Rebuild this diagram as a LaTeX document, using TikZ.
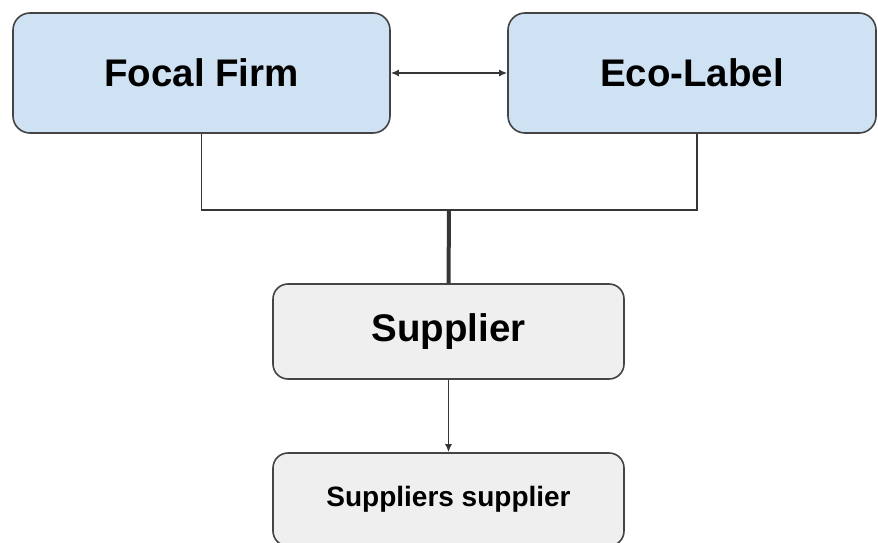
\documentclass[tikz,border=0pt]{standalone}
\usepackage{fontspec}
\setmainfont{Liberation Sans}
\usetikzlibrary{arrows.meta}
\definecolor{boxblue}{HTML}{CFE2F3}
\definecolor{boxgray}{HTML}{EFEFEF}
\definecolor{edge}{HTML}{444444}
\begin{document}
\begin{tikzpicture}[x=1pt,y=-1pt,
  card/.style={draw=edge, line width=1.6pt, rounded corners=17pt, inner sep=0pt,
               font=\fontsize{38.5}{42}\selectfont\bfseries},
  topcard/.style={card, fill=boxblue, minimum height=120pt},
  lowcard/.style={card, fill=boxgray, minimum width=351pt, rounded corners=15pt},
  link/.style={draw=edge!80!black, line width=1.9pt},
  head/.tip={Latex[length=8pt,width=7pt]},
  tip/.style={-head}]
  \useasboundingbox (0,0) rectangle (878,543);
  \fill[white] (0,0) rectangle (878,543);

  % top row
  \node[topcard, minimum width=377pt] (focal) at (201.5,73) {Focal Firm};
  \node[topcard, minimum width=368pt] (eco) at (692,73) {Eco-Label};

  % lower chain
  \node[lowcard, minimum height=95pt] (sup) at (448.5,331.5) {Supplier};
  \node[lowcard, minimum height=93pt, font=\fontsize{28}{32}\selectfont\bfseries]
       (ss) at (448.5,499.5) {Suppliers supplier};

  % junction joining the two top boxes
  \coordinate (j) at (449,210);
  \coordinate (ecofoot) at ([xshift=5pt]eco.south);
  \draw[link] (focal.south) |- (j) -| (ecofoot);
  \draw[link, line width=4pt] (j) -- (sup.north);

  % arrows
  \draw[link, head-head] (focal.east) -- (eco.west);
  \draw[link, tip] (sup.south) -- (ss.north);
\end{tikzpicture}
\end{document}
